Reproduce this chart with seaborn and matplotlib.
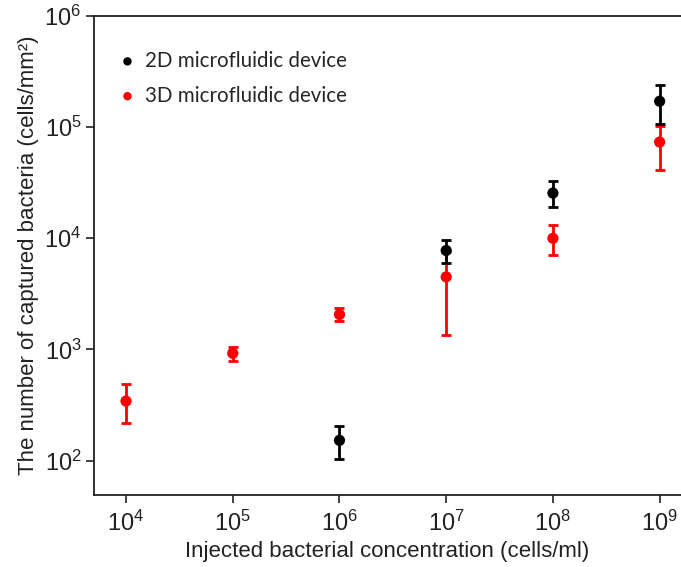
import matplotlib
matplotlib.use("Agg")
import matplotlib.pyplot as plt
import seaborn as sns
import pandas as pd
import numpy as np
from matplotlib.ticker import LogFormatterMathtext, FixedLocator, NullLocator

# Data
conc_2d = [1e6, 1e7, 1e8, 1e9]
mean_2d = [152, 7760, 25500, 171000]
low_2d = [103, 5980, 19100, 107000]
high_2d = [204, 9680, 32600, 238000]

conc_3d = [1e4, 1e5, 1e6, 1e7, 1e8, 1e9]
mean_3d = [343, 923, 2060, 4490, 10000, 73400]
low_3d = [216, 790, 1790, 1345, 7100, 41200]
high_3d = [484, 1050, 2380, 7600, 13200, 103000]

labels = ["2D microfluidic device", "3D microfluidic device"]

sns.set_theme(style="ticks")
plt.rcParams["font.family"] = ["Liberation Sans", "DejaVu Sans"]
plt.rcParams["mathtext.fontset"] = "custom"
plt.rcParams["mathtext.rm"] = "Liberation Sans"
plt.rcParams["mathtext.it"] = "Liberation Sans"
plt.rcParams["mathtext.default"] = "regular"

df = pd.DataFrame({
    "conc": conc_2d + conc_3d,
    "value": mean_2d + mean_3d,
    "device": [labels[0]] * len(conc_2d) + [labels[1]] * len(conc_3d),
})

fig = plt.figure(figsize=(6.81, 5.67), dpi=100)
ax = fig.add_axes([94 / 681, 1 - 495 / 567, 1 - 94 / 681, (495 - 16) / 567])

ax.errorbar(conc_3d, mean_3d,
            yerr=[np.array(mean_3d) - np.array(low_3d), np.array(high_3d) - np.array(mean_3d)],
            fmt="none", ecolor="#ff0000", elinewidth=2, capsize=3.5, capthick=2, zorder=2)
ax.errorbar(conc_2d, mean_2d,
            yerr=[np.array(mean_2d) - np.array(low_2d), np.array(high_2d) - np.array(mean_2d)],
            fmt="none", ecolor="#000000", elinewidth=2, capsize=3.5, capthick=2, zorder=3)

sns.scatterplot(data=df[df.device == labels[1]], x="conc", y="value", color="#ff0000",
                s=65, edgecolor="none", ax=ax, zorder=4, label=labels[1])
sns.scatterplot(data=df[df.device == labels[0]], x="conc", y="value", color="#000000",
                s=65, edgecolor="none", ax=ax, zorder=5, label=labels[0])

ax.set_xscale("log")
ax.set_yscale("log")
ax.set_xlim(10 ** 3.7, 10 ** 9.2)
ax.set_ylim(10 ** 1.69, 1e6)

ax.xaxis.set_major_locator(FixedLocator([1e4, 1e5, 1e6, 1e7, 1e8, 1e9]))
ax.yaxis.set_major_locator(FixedLocator([1e2, 1e3, 1e4, 1e5, 1e6]))
ax.xaxis.set_minor_locator(NullLocator())
ax.yaxis.set_minor_locator(NullLocator())
ax.xaxis.set_major_formatter(LogFormatterMathtext())
ax.yaxis.set_major_formatter(LogFormatterMathtext())
ax.tick_params(axis="both", direction="out", length=6, width=1.2, labelsize=17, colors="#222222")
ax.tick_params(axis="x", pad=5)
ax.tick_params(axis="y", pad=3)

for side in ["left", "top", "bottom"]:
    ax.spines[side].set_linewidth(1.3)
    ax.spines[side].set_color("#222222")
ax.spines["right"].set_visible(False)

ax.set_xlabel("Injected bacterial concentration (cells/ml)", fontsize=16, color="#222222", labelpad=4)
ax.set_ylabel("The number of captured bacteria (cells/mm²)", fontsize=16, color="#222222", labelpad=4)

handles, labs = ax.get_legend_handles_labels()
order = [labs.index(labels[0]), labs.index(labels[1])]
leg = ax.legend([handles[i] for i in order], [labs[i] for i in order],
                loc="upper left", bbox_to_anchor=(0.008, 0.966), frameon=False,
                prop={"family": "Lato", "size": 14.8}, handletextpad=0.35, handlelength=1.0,
                markerscale=0.75, labelspacing=0.72, borderaxespad=0.5)

fig.savefig("out.png", dpi=100)
